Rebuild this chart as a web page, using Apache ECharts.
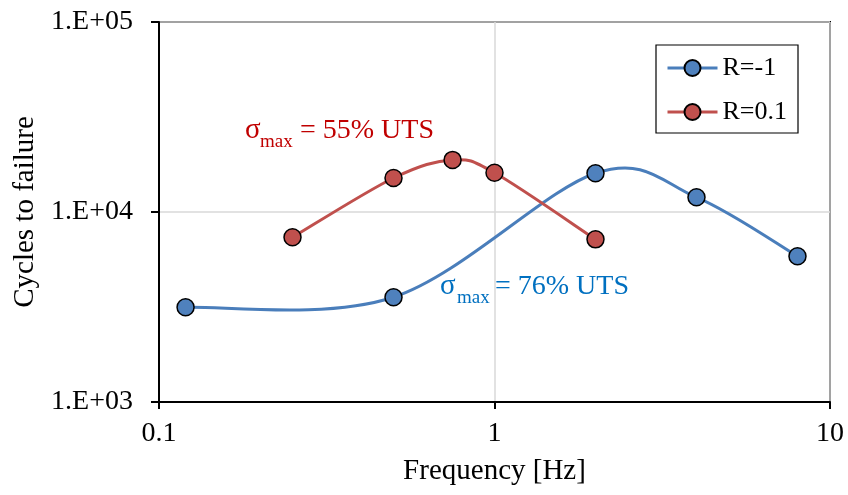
<!DOCTYPE html>
<html>
<head>
<meta charset="utf-8">
<script src="https://cdn.jsdelivr.net/npm/echarts@6/dist/echarts.min.js"></script>
<style>
  html, body { margin: 0; padding: 0; background: #fff; }
  #chart { width: 848px; height: 495px; }
</style>
</head>
<body>
<div id="chart"></div>
<script>
// Fatigue life vs. loading frequency for two stress ratios
const freqRm1 = [0.12, 0.5, 2, 4, 8];
const cyclesRm1 = [3150, 3560, 16000, 11950, 5850];
const freqR01 = [0.25, 0.5, 0.75, 1, 2];
const cyclesR01 = [7360, 15100, 18800, 16090, 7180];
const seriesNames = ['R=-1', 'R=0.1'];
const xTickLabels = ['0.1', '1', '10'];     // 10^-1 .. 10^1
const yTickLabels = ['1.E+03', '1.E+04', '1.E+05']; // 10^3 .. 10^5

const serif = 'Liberation Serif, Times New Roman, serif';
const blue = '#4A7EBB', blueFill = '#4F81BD';
const red = '#C0504D';

const chart = echarts.init(document.getElementById('chart'));

function pairs(xs, ys) { return xs.map((x, i) => [x, ys[i]]); }

// Smoothed curve through the points (Catmull-Rom style cubic Bezier in pixel space),
// allowing overshoot between points like a spreadsheet "smoothed line".
function smoothCurveSeries(data, color) {
  return {
    type: 'custom',
    silent: true,
    z: 1,
    data: data,
    renderItem: function (params, api) {
      if (params.dataIndex !== 0) return;
      const p = data.map(d => api.coord(d));
      const n = p.length;
      const k = 1 / 6;
      let d = 'M' + p[0][0] + ' ' + p[0][1];
      for (let i = 0; i < n - 1; i++) {
        const p0 = p[Math.max(i - 1, 0)], p1 = p[i], p2 = p[i + 1], p3 = p[Math.min(i + 2, n - 1)];
        const c1x = p1[0] + (p2[0] - p0[0]) * k, c1y = p1[1] + (p2[1] - p0[1]) * k;
        const c2x = p2[0] - (p3[0] - p1[0]) * k, c2y = p2[1] - (p3[1] - p1[1]) * k;
        d += ' C' + c1x + ' ' + c1y + ' ' + c2x + ' ' + c2y + ' ' + p2[0] + ' ' + p2[1];
      }
      return {
        type: 'path',
        shape: { pathData: d },
        style: { stroke: color, lineWidth: 3, fill: 'none', lineCap: 'round', lineJoin: 'round' }
      };
    }
  };
}

const option = {
  backgroundColor: '#fff',
  animation: false,
  grid: {
    left: 159, right: 18, top: 22, bottom: 93,
    show: true, borderColor: '#000', borderWidth: 2, backgroundColor: 'transparent'
  },
  legend: {
    orient: 'vertical',
    left: 656, top: 45,
    padding: [8, 11, 6, 10],
    itemGap: 14,
    itemWidth: 50, itemHeight: 20,
    borderColor: '#000', borderWidth: 1.2,
    backgroundColor: '#fff',
    lineStyle: { opacity: 1, width: 3 },
    textStyle: { fontFamily: serif, fontSize: 26, color: '#000', lineHeight: 30 },
    data: seriesNames
  },
  xAxis: {
    type: 'log', logBase: 10, min: 0.1, max: 10,
    name: 'Frequency [Hz]', nameLocation: 'middle', nameGap: 55,
    nameTextStyle: { fontFamily: serif, fontSize: 29, color: '#000' },
    axisLine: { show: true, onZero: false, lineStyle: { color: '#000', width: 2 } },
    axisTick: { show: true, inside: false, length: 7, lineStyle: { color: '#000', width: 2 } },
    minorTick: { show: false },
    axisLabel: {
      fontFamily: serif, fontSize: 28, color: '#000', margin: 18,
      formatter: v => xTickLabels[Math.round(Math.log10(v)) + 1]
    },
    splitLine: { show: true, lineStyle: { color: '#D9D9D9', width: 1.5 } }
  },
  yAxis: {
    type: 'log', logBase: 10, min: 1000, max: 100000,
    name: 'Cycles to failure', nameLocation: 'middle', nameGap: 114, nameRotate: 90,
    nameTextStyle: { fontFamily: serif, fontSize: 29, color: '#000' },
    axisLine: { show: true, onZero: false, lineStyle: { color: '#000', width: 2 } },
    axisTick: { show: true, inside: false, length: 8, lineStyle: { color: '#000', width: 2 } },
    minorTick: { show: false },
    axisLabel: {
      fontFamily: serif, fontSize: 28, color: '#000', margin: 26,
      formatter: v => yTickLabels[Math.round(Math.log10(v)) - 3]
    },
    splitLine: { show: true, lineStyle: { color: '#D9D9D9', width: 1.5 } }
  },
  series: [
    smoothCurveSeries(pairs(freqRm1, cyclesRm1), blue),
    smoothCurveSeries(pairs(freqR01, cyclesR01), red),
    {
      name: seriesNames[0], type: 'line',
      data: pairs(freqRm1, cyclesRm1),
      symbol: 'circle', symbolSize: 17,
      lineStyle: { color: blue, width: 3, opacity: 0 },
      itemStyle: { color: blueFill, borderColor: '#000', borderWidth: 1.5 },
      z: 3
    },
    {
      name: seriesNames[1], type: 'line',
      data: pairs(freqR01, cyclesR01),
      symbol: 'circle', symbolSize: 17,
      lineStyle: { color: red, width: 3, opacity: 0 },
      itemStyle: { color: red, borderColor: '#000', borderWidth: 1.5 },
      z: 3
    }
  ],
  graphic: [
    // stress level annotation for R=0.1
    { type: 'text', left: 245, top: 116, z: 10,
      style: { text: 'σ', font: '29px ' + serif, fill: '#C00000' } },
    { type: 'text', left: 260, top: 133, z: 10,
      style: { text: 'max', font: '19px ' + serif, fill: '#C00000' } },
    { type: 'text', left: 300, top: 117, z: 10,
      style: { text: '= 55% UTS', font: '28px ' + serif, fill: '#C00000' } },
    // stress level annotation for R=-1
    { type: 'text', left: 440, top: 272, z: 10,
      style: { text: 'σ', font: '29px ' + serif, fill: '#0070C0' } },
    { type: 'text', left: 457, top: 289, z: 10,
      style: { text: 'max', font: '19px ' + serif, fill: '#0070C0' } },
    { type: 'text', left: 495, top: 273, z: 10,
      style: { text: '= 76% UTS', font: '28px ' + serif, fill: '#0070C0' } }
  ]
};

chart.setOption(option);
</script>
</body>
</html>
